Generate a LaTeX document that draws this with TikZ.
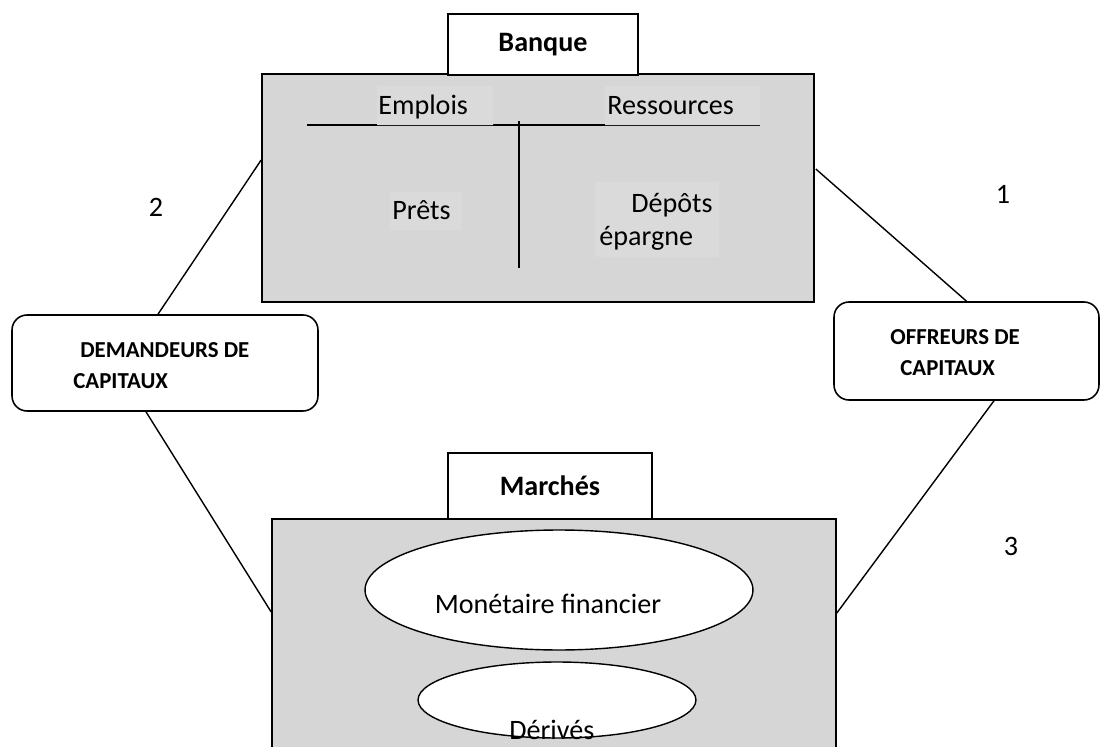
\documentclass[tikz,border=0pt]{standalone}
\usepackage{fontspec}
\setmainfont{Carlito}
\usetikzlibrary{calc,shapes.geometric}
\definecolor{boxgray}{RGB}{214,214,214}
\definecolor{textgray}{RGB}{218,218,218}

\begin{document}
\begin{tikzpicture}[
	x=0.02cm,y=-0.02cm,
	every node/.style={inner sep=0pt},
	grey box/.style={draw,line width=1pt,fill=boxgray,rectangle},
	title box/.style={draw,line width=0.9pt,fill=white,rectangle,font=\fontsize{16}{19}\selectfont\bfseries},
	agent box/.style={draw,line width=0.9pt,fill=white,rectangle,rounded corners=0.3cm},
	market/.style={draw,line width=0.8pt,fill=white,ellipse},
	lbl/.style={anchor=base west,font=\fontsize{16}{19}\selectfont},
	num/.style={anchor=base,font=\fontsize{16}{19}\selectfont},
	caps/.style={anchor=base west,font=\fontsize{13}{16}\selectfont\bfseries},
	link/.style={line width=0.8pt}
]
\useasboundingbox (0,0) rectangle (1100,747);
\clip (0,0) rectangle (1100,747);
%\draw[step=50,black!10!white] (0,0)grid(1100,747);
%\foreach \x in {0,100,...,1100}{\node[below] at (\x,0){\tiny$\x$};}

% banque
\node[grey box,minimum width=11.04cm,minimum height=4.56cm] (bank) at (538,188) {};
\draw[line width=1pt] (307,125)--(760,125);
\fill[textgray] (377,86) rectangle (493,125) (605,86) rectangle (760,125) (390,192) rectangle (462,230) (595,182) rectangle (719,257);
\draw[line width=0.8pt] (519,121)--(519,268);
\node[lbl] (emp) at (378,114) {Emplois};
\node[lbl] (res) at (607,114) {Ressources};
\node[lbl] (pre) at (392,219) {Prêts};
\node[lbl] (dep) at (631,212) {Dépôts};
\node[lbl] (epa) at (599,245) {épargne};
\node[title box,minimum width=3.8cm,minimum height=1.22cm] (banque) at (543,44.5) {Banque};

% marches
\node[grey box,minimum width=11.28cm,minimum height=5.64cm] (mkt) at (554,660) {};
\node[title box,minimum width=4.08cm,minimum height=1.32cm] (marches) at (550,486) {Marchés};
\node[market,minimum width=7.76cm,minimum height=2.4cm] (mon) at (559,590) {};
\node[market,minimum width=5.56cm,minimum height=1.52cm] (der) at (557,700) {};
\node[lbl] (monl) at (434.5,613) {Monétaire financier};
\node[lbl] (derl) at (509,739) {Dérivés};

% agents
\node[agent box,minimum width=6.12cm,minimum height=1.92cm] (dem) at (165,363) {};
\node[caps] (dem1) at (80,357) {DEMANDEURS DE};
\node[caps] (dem2) at (73,388) {CAPITAUX};
\node[agent box,minimum width=5.3cm,minimum height=1.96cm] (off) at (966.5,351) {};
\node[caps] (off1) at (890,344) {OFFREURS DE};
\node[caps] (off2) at (900,375) {CAPITAUX};

\draw[link] ($(dem.north)+(-7,0)$)--($(bank.west)+(0,-28)$) ($(bank.east)+(1,-19)$)--(off.north) ($(dem.south)+(-19,0)$)--($(mkt.west)+(0,-48)$) ($(off.south)+(27.5,0)$)--($(mkt.east)+(0,-47)$);
\node[num] (n2) at (156,216) {2};
\node[num] (n1) at (1003,203) {1};
\node[num] (n3) at (1011,555) {3};
\end{tikzpicture}
\end{document}
